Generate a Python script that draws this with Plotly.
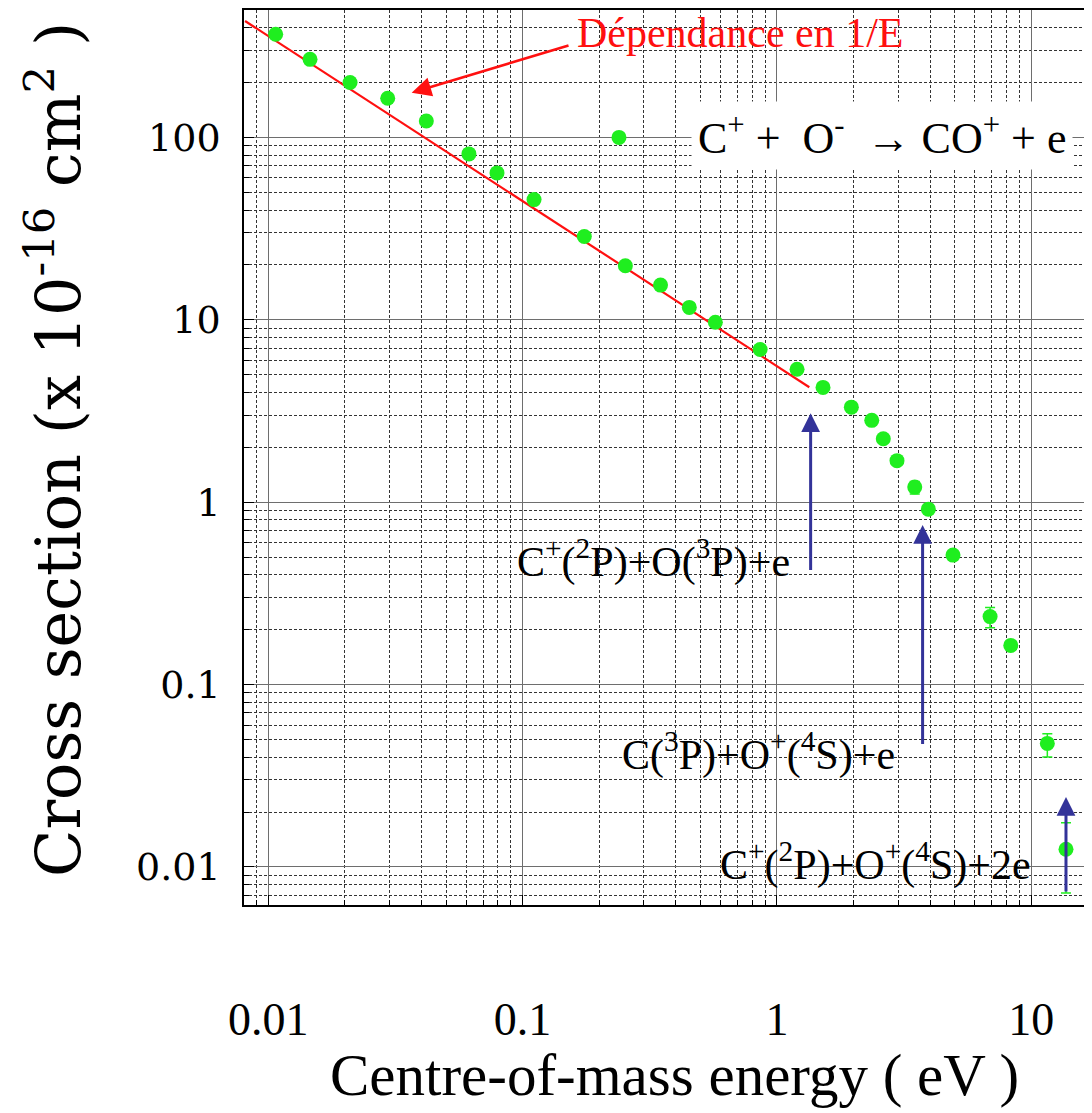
import math
import plotly.graph_objects as go

# ---------------- data ----------------
energy_eV = [0.01069, 0.01459, 0.02096, 0.02948, 0.04182, 0.0615, 0.0793, 0.1109,
             0.1748, 0.2535, 0.3486, 0.4524, 0.5727, 0.859, 1.20, 1.518, 1.962,
             2.36, 2.62, 2.966, 3.483, 3.94, 4.925, 6.89, 8.31, 11.57, 13.70]
cross_section = [368, 268, 200, 164, 123, 81.2, 63.9, 45.6, 28.6, 19.8, 15.5, 11.7,
                 9.69, 6.88, 5.36, 4.26, 3.32, 2.81, 2.23, 1.69, 1.21, 0.916, 0.513,
                 0.236, 0.164, 0.0476, 0.0125]
err_plus = [0] * 20 + [0.09, 0, 0, 0.029, 0, 0.0062, 0.0050]
err_minus = [0] * 20 + [0.10, 0, 0, 0.031, 0, 0.0075, 0.0053]

# legend-style marker next to the reaction label
legend_marker_E = [0.2393]
legend_marker_sigma = [100]

# 1/E dependence line (end points)
fit_E = [0.0081, 1.341]
fit_sigma = [435, 4.27]

# thresholds (blue arrows): energy, arrow tip, arrow base
threshold_E = [1.357, 3.74, 13.70]
threshold_tip = [3.07, 0.751, 0.0242]
threshold_base = [0.417, 0.0464, 0.0072]
threshold_labels = ["C<sup>+</sup>(<sup>2</sup>P)+O(<sup>3</sup>P)+e",
                    "C(<sup>3</sup>P)+O<sup>+</sup>(<sup>4</sup>S)+e",
                    "C<sup>+</sup>(<sup>2</sup>P)+O<sup>+</sup>(<sup>4</sup>S)+2e"]
label_E = [0.0933, 0.2415, 0.5867]
label_sigma = [0.4900, 0.04252, 0.0107]

x_tick_vals = [0.01, 0.1, 1, 10]
x_tick_text = ["0.01", "0.1", "1", "10"]
y_tick_vals = [0.01, 0.1, 1, 10, 100]
y_tick_text = ["0.01", "0.1", "1", "10", "100"]

x_title = "Centre-of-mass energy ( eV )"
y_title = "Cross section (x 10<sup>-16</sup> cm<sup>2</sup> )"
reaction = "C<sup>+</sup> +  O<sup>-</sup>  → CO<sup>+</sup> + e"

minor_vals = [m * 10.0 ** k for k in range(-3, 3) for m in range(2, 10)]

GREEN = "#1fee1f"
BLUE = "#333399"
RED = "#ff1010"
SERIF = "Liberation Serif"
WIDE = "DejaVu Serif"

L = math.log10

fig = go.Figure()

fig.add_trace(go.Scatter(x=fit_E, y=fit_sigma, mode="lines",
                         line=dict(color=RED, width=2.2), hoverinfo="skip"))

fig.add_trace(go.Scatter(
    x=energy_eV, y=cross_section, mode="markers",
    marker=dict(color=GREEN, size=15, line=dict(width=0)),
    error_y=dict(type="data", array=err_plus, arrayminus=err_minus,
                 color=GREEN, thickness=1.5, width=5, visible=True)))

fig.add_trace(go.Scatter(x=legend_marker_E, y=legend_marker_sigma, mode="markers",
                         marker=dict(color=GREEN, size=15)))

annotations = []

# red "1/E" label and arrow
annotations.append(dict(x=L(0.1607), y=L(372), xref="x", yref="y",
                        text="Dépendance en 1/E", showarrow=False,
                        xanchor="left", yanchor="middle",
                        font=dict(family=SERIF, size=42, color=RED)))
annotations.append(dict(x=L(0.03662), y=L(176), ax=L(0.1536), ay=L(321),
                        xref="x", yref="y", axref="x", ayref="y", text="",
                        showarrow=True, arrowhead=2, arrowsize=1.5, arrowwidth=2.6,
                        arrowcolor=RED, standoff=0, startstandoff=0))

# reaction label with white background
annotations.append(dict(x=L(2.6), y=L(102), xref="x", yref="y",
                        text=reaction,
                        showarrow=False, xanchor="center", yanchor="middle",
                        bgcolor="white", borderpad=6,
                        font=dict(family=SERIF, size=44, color="black")))

for e, tip, base in zip(threshold_E, threshold_tip, threshold_base):
    annotations.append(dict(x=L(e), y=L(tip), ax=L(e), ay=L(base),
                            xref="x", yref="y", axref="x", ayref="y", text="",
                            showarrow=True, arrowhead=2, arrowsize=1.25, arrowwidth=3,
                            arrowcolor=BLUE, standoff=0, startstandoff=0))

for txt, e, s in zip(threshold_labels, label_E, label_sigma):
    annotations.append(dict(x=L(e), y=L(s), xref="x", yref="y", text=txt,
                            showarrow=False, xanchor="left", yanchor="middle",
                            font=dict(family=SERIF, size=42, color="black")))

# axis titles
annotations.append(dict(x=0.508, y=-0.1895, xref="paper", yref="paper",
                        text=x_title, showarrow=False,
                        xanchor="center", yanchor="middle",
                        font=dict(family=SERIF, size=59, color="black")))
annotations.append(dict(x=-0.2229, y=0.5095, xref="paper", yref="paper",
                        text=y_title, showarrow=False, textangle=-90,
                        xanchor="center", yanchor="middle",
                        font=dict(family=WIDE, size=62, color="black")))

# the page body has an 8 px margin, so the figure is offset to fit the window
fig.update_layout(
    width=1084, height=1105,
    margin=dict(l=236, r=0, t=0, b=208),
    paper_bgcolor="white", plot_bgcolor="white",
    showlegend=False,
    annotations=annotations,
    xaxis=dict(
        type="log", range=[-2.0956, 1.239],
        tickmode="array", tickvals=x_tick_vals, ticktext=x_tick_text,
        tickfont=dict(family=SERIF, size=46, color="black"),
        ticks="inside", ticklen=10, tickcolor="black", ticklabelstandoff=73,
        showgrid=True, gridcolor="#6e6e6e", gridwidth=1,
        minor=dict(tickmode="array", tickvals=minor_vals, ticks="inside", ticklen=5,
                   tickcolor="black", showgrid=True, gridcolor="#333333",
                   griddash="3px,2px", gridwidth=0.8),
        showline=True, linecolor="black", linewidth=2, mirror=True, zeroline=False,
    ),
    yaxis=dict(
        type="log", range=[-2.2084, 2.6986],
        tickmode="array", tickvals=y_tick_vals, ticktext=y_tick_text,
        tickfont=dict(family=WIDE, size=38, color="black"),
        ticks="inside", ticklen=10, tickcolor="black", ticklabelstandoff=14,
        showgrid=True, gridcolor="#6e6e6e", gridwidth=1,
        minor=dict(tickmode="array", tickvals=minor_vals, ticks="inside", ticklen=5,
                   tickcolor="black", showgrid=True, gridcolor="#333333",
                   griddash="3px,2px", gridwidth=0.8),
        showline=True, linecolor="black", linewidth=1.5, mirror=False, zeroline=False,
    ),
)

fig.write_html("out.html")
